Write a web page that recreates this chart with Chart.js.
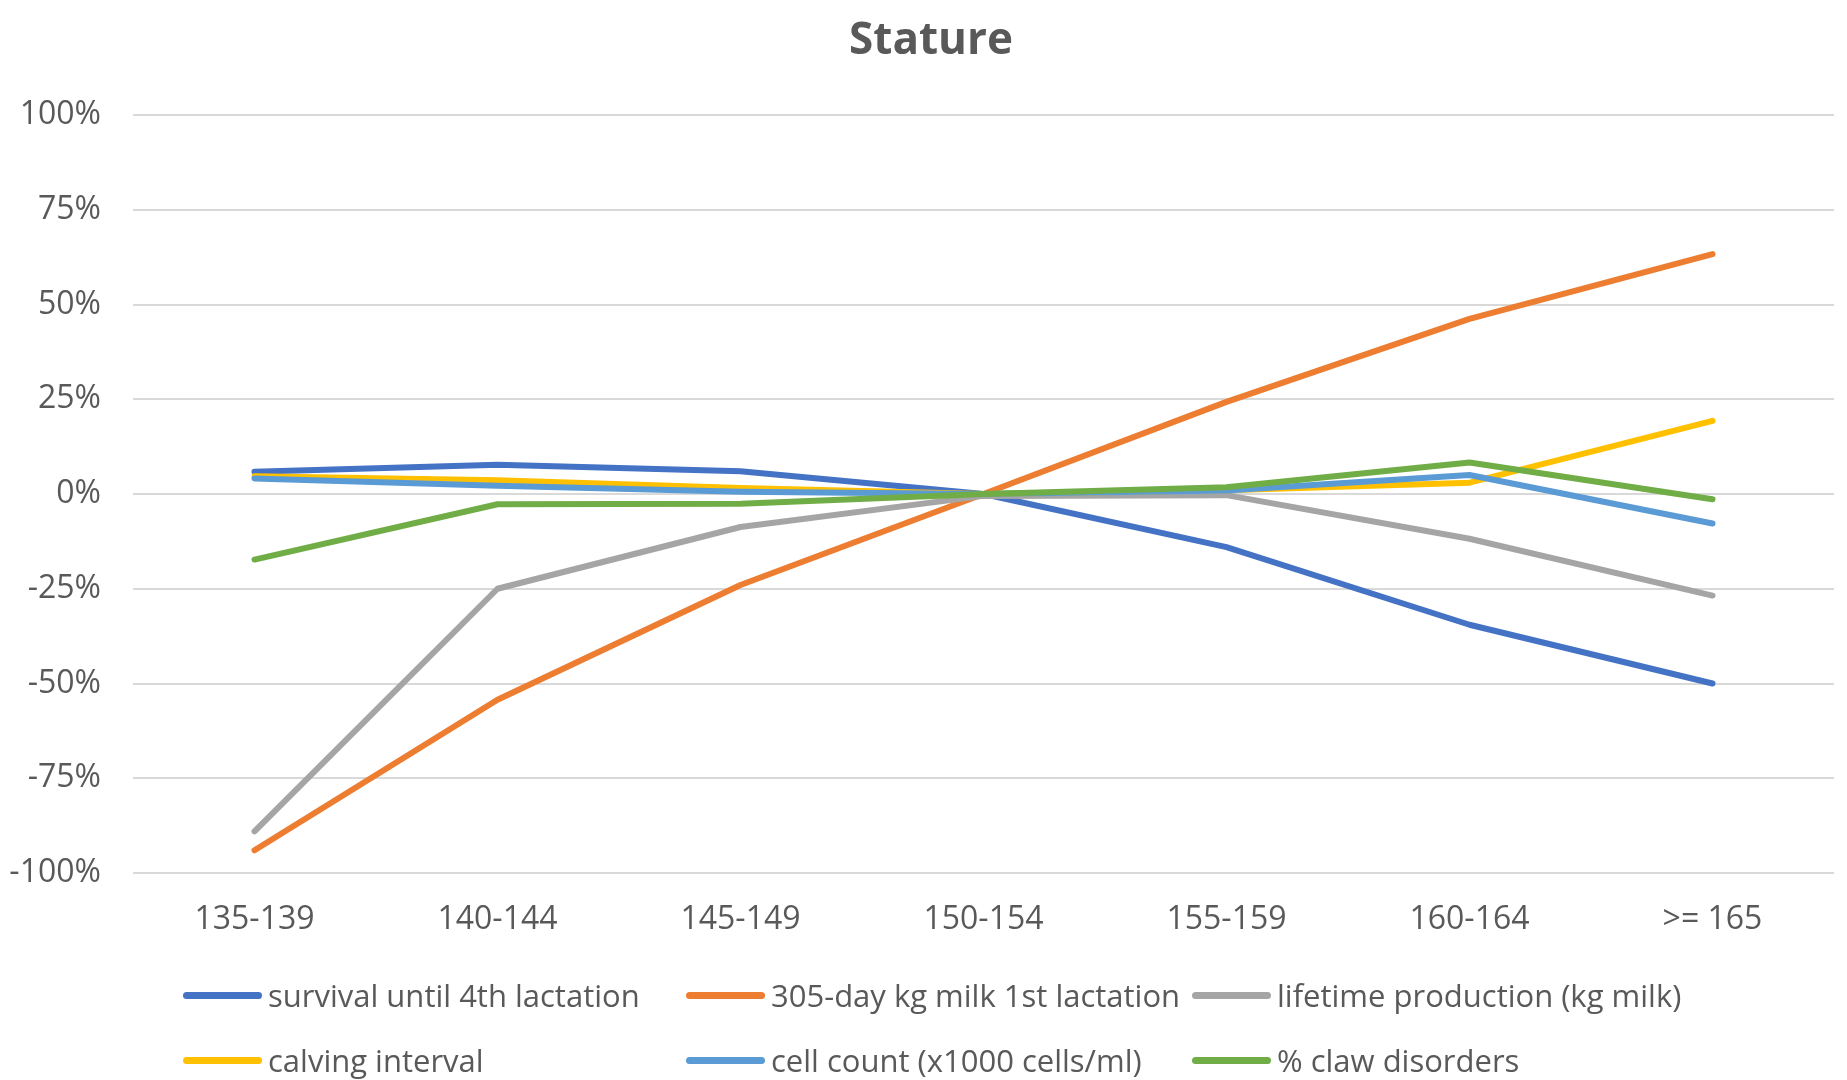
<!DOCTYPE html>
<html lang="en">
<head>
    <meta charset="UTF-8">
    <title>Stature</title>
    <script src="https://cdn.jsdelivr.net/npm/chart.js"></script>
    <style>
        html, body {
            margin: 0;
            padding: 0;
            background: #ffffff;
        }
        .wrap {
            position: relative;
            width: 1847px;
            height: 1080px;
        }
        #stature-chart {
            position: absolute;
            left: 0;
            top: 0;
        }
        .chart-title {
            position: absolute;
            left: 831px;
            width: 200px;
            top: 11px;
            text-align: center;
            font-family: 'Open Sans', sans-serif;
            font-size: 44px;
            font-weight: bold;
            line-height: 53px;
            color: #595959;
        }
        .legend {
            position: absolute;
            left: 0;
            top: 0;
            font-family: 'Open Sans', sans-serif;
            font-size: 31px;
            color: #595959;
        }
        .legend-item {
            position: absolute;
            display: flex;
            align-items: center;
            white-space: nowrap;
            height: 40px;
        }
        .legend-item .swatch {
            width: 79px;
            height: 7px;
            border-radius: 4px;
            margin-right: 6px;
        }
    </style>
</head>
<body>
<div class="wrap">
    <canvas id="stature-chart" width="1847" height="1080"></canvas>
    <div class="chart-title">Stature</div>
    <div class="legend" id="legend"></div>
</div>

<script>
    // categories (stature classes, cm)
    const categories = ['135-139', '140-144', '145-149', '150-154', '155-159', '160-164', '>= 165'];

    // series values, % deviation
    const survival   = [5.9, 7.7, 6.0, 0, -14.0, -34.5, -50.0];
    const milk305    = [-94.0, -54.3, -24.0, 0, 24.3, 46.2, 63.3];
    const lifetime   = [-89.0, -25.0, -8.7, -0.5, -0.3, -11.8, -26.8];
    const calving    = [4.7, 3.6, 1.6, 0, 1.0, 3.0, 19.3];
    const cellCount  = [4.1, 2.2, 0.6, 0, 0.9, 5.0, -7.8];
    const claw       = [-17.3, -2.7, -2.6, 0, 1.8, 8.3, -1.4];

    const seriesNames = [
        'survival until 4th lactation',
        '305-day kg milk 1st lactation',
        'lifetime production (kg milk)',
        'calving interval',
        'cell count (x1000 cells/ml)',
        '% claw disorders'
    ];
    const seriesData = [survival, milk305, lifetime, calving, cellCount, claw];
    const seriesColors = ['#4472C4', '#ED7D31', '#A5A5A5', '#FFC000', '#5B9BD5', '#70AD47'];

    // y axis ticks, %
    const yMin = -100;
    const yMax = 100;
    const yStep = 25;

    const textColor = '#595959';
    const font = "'Open Sans', sans-serif";

    const datasets = seriesData.map((values, i) => ({
        label: seriesNames[i],
        data: values,
        borderColor: seriesColors[i],
        backgroundColor: seriesColors[i],
        borderWidth: 6,
        borderCapStyle: 'round',
        borderJoinStyle: 'round',
        pointRadius: 0,
        tension: 0,
        fill: false,
        order: seriesData.length - i
    }));

    new Chart(document.getElementById('stature-chart').getContext('2d'), {
        type: 'line',
        data: { labels: categories, datasets },
        options: {
            responsive: false,
            animation: false,
            layout: { padding: { left: 0, right: 13, top: 115, bottom: 0 } },
            plugins: {
                legend: { display: false },
                tooltip: { enabled: false },
                title: { display: false }
            },
            scales: {
                x: {
                    offset: true,
                    grid: { display: false, drawTicks: false },
                    border: { display: false },
                    ticks: {
                        color: textColor,
                        font: { family: font, size: 32 },
                        padding: 28,
                        maxRotation: 0,
                        autoSkip: false
                    },
                    afterFit(scale) { scale.height = 207; }
                },
                y: {
                    min: yMin,
                    max: yMax,
                    grid: { color: '#d9d9d9', lineWidth: 2, drawTicks: false },
                    border: { display: false },
                    ticks: {
                        stepSize: yStep,
                        color: textColor,
                        font: { family: font, size: 32 },
                        padding: 32,
                        callback: v => v + '%'
                    },
                    afterFit(scale) { scale.width = 133; }
                }
            }
        }
    });

    // legend in Excel-like grid (3 columns x 2 rows)
    const legendCols = [183, 686, 1192];
    const legendRows = [975, 1040];
    const legend = document.getElementById('legend');
    seriesNames.forEach((name, i) => {
        const item = document.createElement('div');
        item.className = 'legend-item';
        item.style.left = legendCols[i % 3] + 'px';
        item.style.top = legendRows[Math.floor(i / 3)] + 'px';
        item.innerHTML = `<span class="swatch" style="background:${seriesColors[i]}"></span><span>${name}</span>`;
        legend.appendChild(item);
    });
</script>
</body>
</html>
